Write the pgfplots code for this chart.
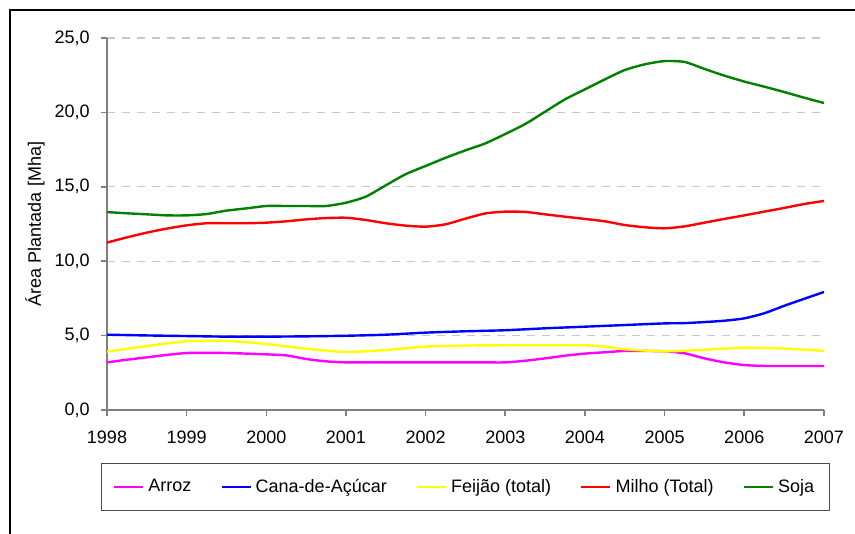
\documentclass[border=0pt]{standalone}
\usepackage{pgfplots}
\pgfplotsset{compat=1.18}
\usepackage{fontspec}
\setmainfont{Liberation Sans}
\definecolor{gridgray}{RGB}{200,200,200}
\definecolor{axgray}{RGB}{128,128,128}
\definecolor{soja}{RGB}{0,128,0}
\definecolor{arroz}{RGB}{255,0,255}
\definecolor{cana}{RGB}{0,0,255}
\definecolor{feijao}{RGB}{255,255,0}
\definecolor{milho}{RGB}{255,0,0}
\begin{document}
\fontsize{9pt}{11pt}\selectfont
\begin{tikzpicture}
\useasboundingbox (0,0) rectangle (427.5pt,267pt);
\draw[line width=1.1pt] (5pt,0pt) -- (5pt,262pt) -- (427.5pt,262pt);
\begin{axis}[
  at={(53.5pt,62pt)}, anchor=south west,
  scale only axis, width=358.5pt, height=186pt,
  xmin=1998, xmax=2007, ymin=0, ymax=25,
  axis x line*=bottom, axis y line*=left,
  axis line style={draw=axgray, line width=0.8pt},
  xtick={1998,...,2007},
  xticklabels={1998,1999,2000,2001,2002,2003,2004,2005,2006,2007},
  ytick={0,5,...,25},
  tick align=outside, major tick length=3pt,
  tick style={draw=axgray, line width=0.8pt},
  /pgf/number format/.cd, fixed, fixed zerofill, precision=1, use comma, assume math mode=true,
  /pgfplots/.cd,
  ymajorgrids, grid style={draw=gridgray, dash pattern=on 4pt off 3.5pt, line width=0.6pt},
  yticklabel style={anchor=east, inner sep=0pt, xshift=-5.5pt},
  xticklabel style={anchor=north, inner sep=0pt, yshift=-7.5pt},
  ylabel={Área Plantada [Mha]},
  ylabel style={at={(axis description cs:-0.1004,0.5)}, anchor=center, inner sep=0pt},
  legend columns=5,
  legend style={at={(axis description cs:0.5,-0.207)}, anchor=center,
    draw=black!70, line width=0.5pt, inner xsep=5.5pt, inner ysep=6pt,
    /tikz/every even column/.append style={column sep=12.5pt},
    font=\fontsize{9pt}{11pt}\selectfont},
  legend image code/.code={\draw[#1, line width=1.2pt] (0pt,0pt) -- (14.5pt,0pt);},
  every axis plot/.append style={line width=1.2pt, smooth, tension=0.4},
]
\addplot[arroz] coordinates {
(1998,3.2) (1998.25,3.38) (1998.5,3.54) (1998.75,3.7) (1999,3.83) (1999.25,3.84) (1999.5,3.83) (1999.75,3.79)
(2000,3.74) (2000.25,3.67) (2000.5,3.43) (2000.75,3.27) (2001,3.2) (2001.25,3.2) (2001.5,3.2) (2001.75,3.2)
(2002,3.2) (2002.25,3.2) (2002.5,3.2) (2002.75,3.2) (2003,3.2) (2003.25,3.31) (2003.5,3.47) (2003.75,3.65)
(2004,3.79) (2004.25,3.88) (2004.5,3.97) (2004.75,3.97) (2005,3.94) (2005.25,3.81) (2005.5,3.47) (2005.75,3.2)
(2006,3.02) (2006.25,2.96) (2006.5,2.96) (2006.75,2.96) (2007,2.96)};
\addlegendentry{Arroz}
\addplot[cana] coordinates {
(1998,5.06) (1998.5,5.01) (1999,4.97) (1999.5,4.93) (2000,4.93) (2000.5,4.95) (2001,4.99) (2001.5,5.06)
(2002,5.2) (2002.5,5.29) (2003,5.36) (2003.5,5.49) (2004,5.6) (2004.5,5.71) (2005,5.82) (2005.25,5.84)
(2005.5,5.91) (2005.75,6.0) (2006,6.16) (2006.25,6.5) (2006.5,7.0) (2006.75,7.47) (2007,7.93)};
\addlegendentry{Cana-de-Açúcar}
\addplot[feijao] coordinates {
(1998,3.92) (1998.5,4.3) (1999,4.62) (1999.5,4.64) (2000,4.44) (2000.5,4.12) (2001,3.9) (2001.5,4.03)
(2002,4.26) (2002.5,4.33) (2003,4.35) (2003.5,4.35) (2004,4.35) (2004.25,4.26) (2004.5,4.08) (2005,3.94)
(2005.5,4.05) (2006,4.19) (2006.5,4.13) (2007,3.97)};
\addlegendentry{Feijão (total)}
\addplot[milho] coordinates {
(1998,11.25) (1998.25,11.6) (1998.5,11.92) (1998.75,12.19) (1999,12.41) (1999.25,12.55) (1999.5,12.55) (1999.75,12.55)
(2000,12.59) (2000.25,12.68) (2000.5,12.81) (2000.75,12.9) (2001,12.92) (2001.25,12.77) (2001.5,12.55) (2001.75,12.39)
(2002,12.32) (2002.25,12.48) (2002.5,12.86) (2002.75,13.21) (2003,13.33) (2003.25,13.31) (2003.5,13.15) (2003.75,12.99)
(2004,12.84) (2004.25,12.68) (2004.5,12.43) (2004.75,12.28) (2005,12.21) (2005.25,12.34) (2005.5,12.59) (2005.75,12.84)
(2006,13.08) (2006.25,13.33) (2006.5,13.58) (2006.75,13.84) (2007,14.05)};
\addlegendentry{Milho (Total)}
\addplot[soja] coordinates {
(1998,13.3) (1998.25,13.22) (1998.5,13.15) (1998.75,13.08) (1999,13.08) (1999.25,13.17) (1999.5,13.4) (1999.75,13.55)
(2000,13.71) (2000.25,13.71) (2000.5,13.71) (2000.75,13.71) (2001,13.93) (2001.25,14.34) (2001.5,15.1) (2001.75,15.85)
(2002,16.4) (2002.25,16.95) (2002.5,17.45) (2002.75,17.92) (2003,18.55) (2003.25,19.22) (2003.5,20.05) (2003.75,20.88)
(2004,21.55) (2004.25,22.22) (2004.5,22.85) (2004.75,23.23) (2005,23.45) (2005.25,23.39) (2005.5,22.92) (2005.75,22.47)
(2006,22.07) (2006.25,21.73) (2006.5,21.37) (2006.75,20.99) (2007,20.63)};
\addlegendentry{Soja}
\end{axis}
\end{tikzpicture}
\end{document}
